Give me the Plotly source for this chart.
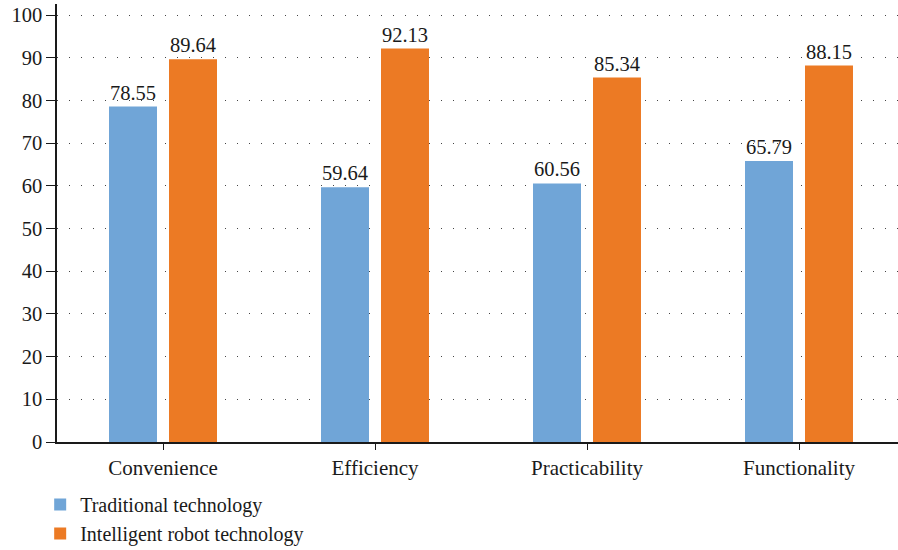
import plotly.graph_objects as go

categories = ["Convenience", "Efficiency", "Practicability", "Functionality"]
traditional = [78.55, 59.64, 60.56, 65.79]
intelligent = [89.64, 92.13, 85.34, 88.15]
series_names = ["Traditional technology", "Intelligent robot technology"]
y_ticks = [0, 10, 20, 30, 40, 50, 60, 70, 80, 90, 100]

FONT = "Liberation Serif"
blue = "#70A5D7"
orange = "#EC7A24"
TXT = "#1a1a1a"

fig = go.Figure()
for name, vals, col in [(series_names[0], traditional, blue), (series_names[1], intelligent, orange)]:
    fig.add_trace(go.Bar(
        x=categories, y=vals, name=name,
        marker=dict(color=col, line=dict(width=0)),
        text=[f"{v:.2f}" for v in vals], textposition="outside",
        textfont=dict(family=FONT, size=20.5, color=TXT),
        cliponaxis=False,
    ))

fig.update_layout(
    width=898, height=550,
    margin=dict(l=57, r=0, t=4, b=108, autoexpand=False),
    paper_bgcolor="white", plot_bgcolor="white",
    barmode="group", bargap=0.434, bargroupgap=0.2,
    font=dict(family=FONT, size=20.5, color=TXT),
    showlegend=True,
    legend=dict(
        orientation="v", x=-0.02, xanchor="left", y=-0.098, yanchor="top",
        font=dict(family=FONT, size=20, color=TXT),
        bgcolor="rgba(0,0,0,0)", itemwidth=30, tracegroupgap=0,
    ),
)
fig.update_xaxes(
    range=[-0.5, 3.467], showline=True, linecolor=TXT, linewidth=1.5,
    ticks="outside", ticklen=6, tickwidth=1.2, tickcolor=TXT,
    showgrid=False, zeroline=False,
    tickfont=dict(family=FONT, size=21, color=TXT),
)
fig.update_yaxes(
    range=[0, 102.58], tickvals=y_ticks, showline=True, linecolor=TXT, linewidth=1.5,
    ticks="outside", ticklen=9, tickwidth=1.2, tickcolor=TXT,
    showgrid=True, gridcolor="#444444", gridwidth=1, griddash="1px,11px",
    zeroline=False,
    tickfont=dict(family=FONT, size=20.5, color=TXT),
)

fig.write_html("out.html")
